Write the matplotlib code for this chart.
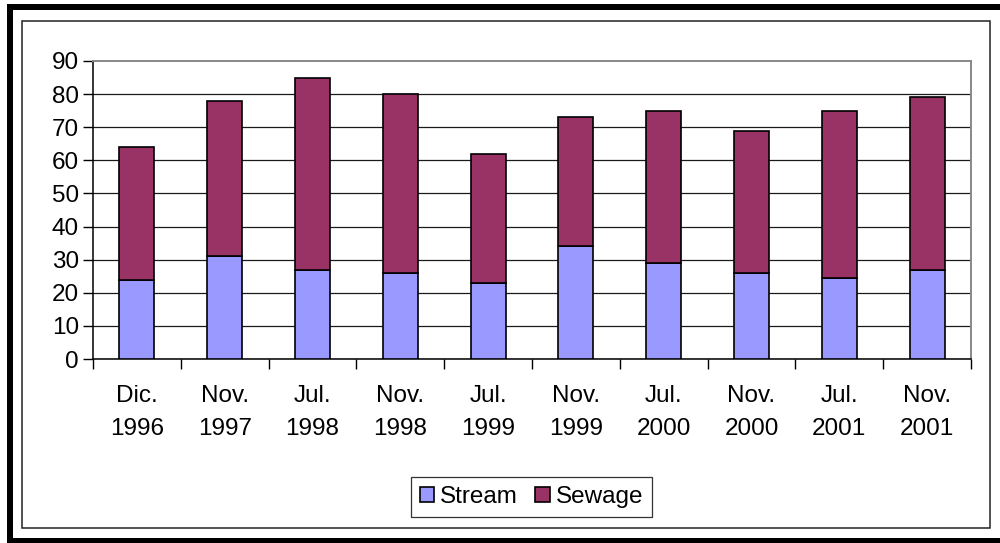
import matplotlib
matplotlib.use("Agg")
import matplotlib.pyplot as plt
from matplotlib.patches import Rectangle
import numpy as np

categories = ["Dic.\n1996", "Nov.\n1997", "Jul.\n1998", "Nov.\n1998", "Jul.\n1999",
              "Nov.\n1999", "Jul.\n2000", "Nov.\n2000", "Jul.\n2001", "Nov.\n2001"]
stream = [24, 31, 27, 26, 23, 34, 29, 26, 24.5, 27]
sewage = [40, 47, 58, 54, 39, 39, 46, 43, 50.5, 52]
y_ticks = [0, 10, 20, 30, 40, 50, 60, 70, 80, 90]

STREAM_COLOR = "#9999FF"
SEWAGE_COLOR = "#993366"

plt.rcParams["font.family"] = ["Liberation Sans", "DejaVu Sans"]
FS = 17.5

W, H = 1000, 543
fig = plt.figure(figsize=(W / 100, H / 100), dpi=100)


def px_rect(x0, y0, x1, y1, **kw):
    """Rectangle given in pixel coordinates with the origin at the top-left."""
    r = Rectangle((x0 / W, 1 - y1 / H), (x1 - x0) / W, (y1 - y0) / H,
                  transform=fig.transFigure, **kw)
    fig.add_artist(r)
    return r


# heavy outer frame
px_rect(7, 4, 1000, 10, facecolor="black", edgecolor="none")
px_rect(7, 4, 13, 543, facecolor="black", edgecolor="none")
px_rect(7, 538, 1000, 543, facecolor="black", edgecolor="none")
# thin chart-area border
px_rect(22, 20.5, 990, 528, facecolor="none", edgecolor="#222222", linewidth=1.1)

ax = fig.add_axes([93 / W, 1 - 359 / H, (971 - 93) / W, (359 - 61) / H])

x = np.arange(len(categories))
width = 0.40
ax.bar(x, stream, width, color=STREAM_COLOR, edgecolor="black", linewidth=1.2,
       label="Stream", zorder=3)
ax.bar(x, sewage, width, bottom=stream, color=SEWAGE_COLOR, edgecolor="black",
       linewidth=1.2, label="Sewage", zorder=3)

ax.set_xlim(-0.5, len(categories) - 0.5)
ax.set_ylim(0, 90)
ax.set_yticks(y_ticks)
ax.set_yticklabels([str(v) for v in y_ticks], fontsize=FS)
ax.tick_params(axis="y", direction="out", length=7, width=1, color="black", pad=3)

ax.set_xticks(x)
ax.set_xticklabels(categories, fontsize=FS, linespacing=1.6)
ax.tick_params(axis="x", which="major", length=0, pad=19)
ax.set_xticks(np.arange(len(categories) + 1) - 0.5, minor=True)
ax.tick_params(axis="x", which="minor", direction="out", length=7, width=1, color="black")

ax.yaxis.grid(True, color="#1a1a1a", linewidth=0.9, zorder=1)
ax.set_axisbelow(True)
ax.get_ygridlines()[-1].set_visible(False)

for side in ("left", "bottom"):
    ax.spines[side].set_color("black")
    ax.spines[side].set_linewidth(1.1)
for side in ("top", "right"):
    ax.spines[side].set_color("#888888")
    ax.spines[side].set_linewidth(1.4)

handles, labels = ax.get_legend_handles_labels()
leg = fig.legend(handles, labels, loc="center", bbox_to_anchor=(531.5 / W, 1 - 497 / H),
                 ncol=2, fontsize=FS, frameon=True, fancybox=False, edgecolor="black",
                 handlelength=0.6, handleheight=0.6, handletextpad=0.25,
                 columnspacing=0.7, borderpad=0.35, borderaxespad=0)
leg.get_frame().set_linewidth(0.9)

fig.savefig("out.png", dpi=100, facecolor="white")
